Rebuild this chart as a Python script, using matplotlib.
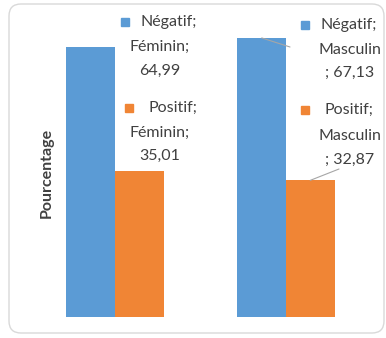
import matplotlib
matplotlib.use("Agg")
import matplotlib.pyplot as plt
from matplotlib.patches import FancyBboxPatch
from matplotlib.transforms import IdentityTransform
import numpy as np

plt.rcParams["font.family"] = ["Lato", "DejaVu Sans"]

categories = ["Féminin", "Masculin"]
negatif = [64.99, 67.13]
positif = [35.01, 32.87]

blue = "#5b9bd5"
orange = "#f08535"
txt = "#404040"

W, H = 386, 338
fig = plt.figure(figsize=(W / 100, H / 100), dpi=100)


def fx(x):
    return x / W


def fy(y):
    return 1 - y / H


ax = fig.add_axes([fx(29.5), fy(317), fx(371.5) - fx(29.5), fy(26) - fy(317)])
x = np.arange(len(categories))
w = 0.284
ax.bar(x - w / 2, negatif, w, color=blue)
ax.bar(x + w / 2, positif, w, color=orange)
ax.set_xlim(-0.5, 1.5)
ax.set_ylim(0, 70)
ax.axis("off")

# rounded chart frame
frame = FancyBboxPatch((9, 5), 375, 329, boxstyle="round,pad=0,rounding_size=12",
                       facecolor="none", edgecolor="#d9d9d9", linewidth=1,
                       transform=IdentityTransform())
fig.add_artist(frame)

fig.text(fx(47), fy(173), "Pourcentage", rotation=90, ha="center", va="center",
         fontsize=11.5, fontweight="bold", color=txt)


def fmt(v):
    return f"{v:.2f}".replace(".", ",")


# data labels: (marker x, first-line left x, block centre x, line y's, lines, colour)
labels = [
    (125, 141, 160, [22, 47, 71], ["Négatif;", "Féminin;", fmt(negatif[0])], blue),
    (129, 148, 160, [108, 133, 156], ["Positif;", "Féminin;", fmt(positif[0])], orange),
    (305, 321, 350, [25, 50, 73], ["Négatif;", "Masculin", "; " + fmt(negatif[1])], blue),
    (305, 325, 350, [110, 136, 160], ["Positif;", "Masculin", "; " + fmt(positif[1])], orange),
]
for mx, lx, cx, ys, lines, col in labels:
    fig.add_artist(plt.Line2D([fx(mx)], [fy(ys[0])], marker="s", markersize=5.5,
                              color=col, transform=fig.transFigure))
    fig.text(fx(lx), fy(ys[0]), lines[0], ha="left", va="center", fontsize=11.5, color=txt)
    for yy, s in zip(ys[1:], lines[1:]):
        fig.text(fx(cx), fy(yy), s, ha="center", va="center", fontsize=11.5, color=txt)

# leader lines for Masculin labels
ax.annotate("", xy=(1 - w / 2, negatif[1]), xytext=(290, H - 47), textcoords="figure pixels",
            arrowprops=dict(arrowstyle="-", color="#a6a6a6", lw=0.8, shrinkA=0, shrinkB=0))
ax.annotate("", xy=(1 + w / 2, positif[1]), xytext=(339, H - 169), textcoords="figure pixels",
            arrowprops=dict(arrowstyle="-", color="#a6a6a6", lw=0.8, shrinkA=0, shrinkB=0))

fig.savefig("out.png", dpi=100, facecolor="white")
